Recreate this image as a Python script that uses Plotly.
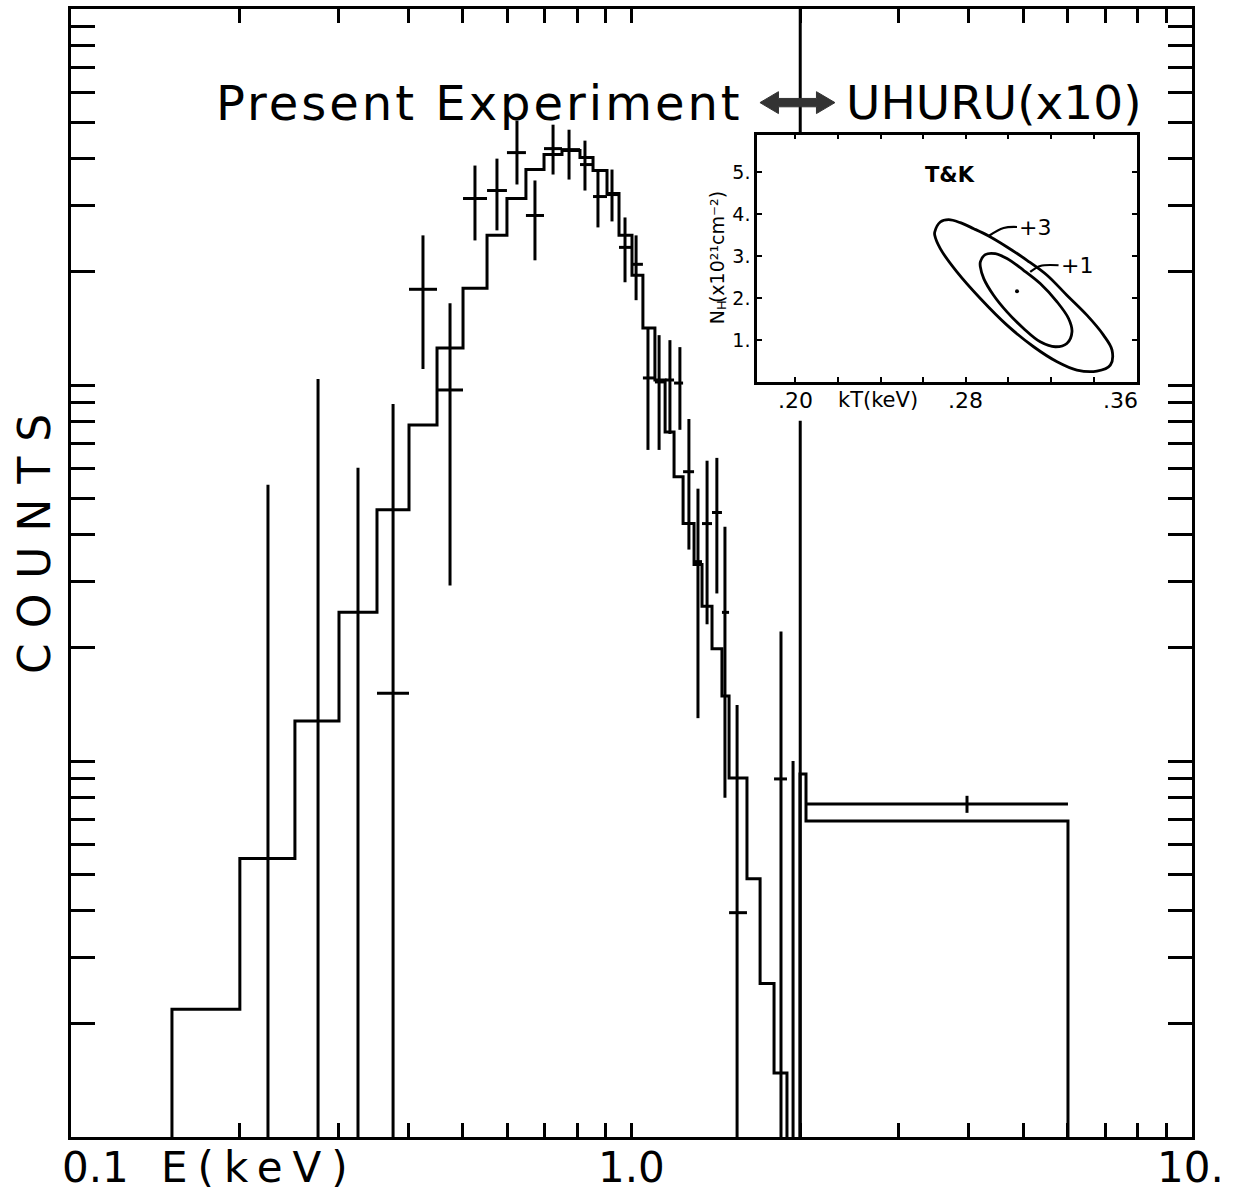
import math
import plotly.graph_objects as go

# ---------------- main spectrum (E in keV, counts on log scale) ----------------
# folded model, present experiment: bin edges and model counts per bin
model_edges_keV = [0.1514, 0.2001, 0.2509, 0.3007, 0.3515, 0.4009, 0.4498, 0.5005,
                   0.5524, 0.5995, 0.6481, 0.6981, 0.7516, 0.8092, 0.8538, 0.9043,
                   0.9500, 1.002, 1.048, 1.101, 1.148, 1.191, 1.236, 1.293, 1.336,
                   1.392, 1.450, 1.493, 1.607, 1.696, 1.796, 1.894]
model_counts = [2.185, 5.50, 12.77, 24.85, 46.6, 78.3, 125.4, 180.8, 250.0, 313.3,
                374.1, 410.0, 420.1, 402.6, 371.8, 323.1, 250.0, 195.8, 141.7, 103.1,
                75.0, 57.0, 42.8, 33.3, 25.8, 19.9, 14.9, 9.01, 4.86, 2.56, 1.48]

# UHURU model (x10)
uhuru_model_edges_keV = [1.998, 2.048, 6.008]
uhuru_model_counts = [9.24, 6.93]

# measured points with central value
pt_e = [0.3755, 0.4246, 0.4745, 0.5257, 0.5754, 0.6247, 0.6726, 0.7245, 0.7737,
        0.8260, 0.8713, 0.9230, 0.9737, 1.019, 1.070, 1.120, 1.171, 1.220, 1.266,
        1.314, 1.364, 1.420, 1.468, 1.543, 1.848]
pt_counts = [15.15, 179.7, 97.0, 313.3, 329.0, 415.0, 282.4, 425.3, 422.7, 385.7,
             317.1, 321.0, 232.3, 209.4, 104.4, 101.9, 103.1, 101.2, 58.8, 33.9,
             42.8, 45.8, 24.85, 3.95, 8.96]
pt_lo = [1.0, 110.3, 29.3, 242.4, 257.8, 341.4, 214.6, 362.9, 351.9, 329.0, 262.5,
         272.3, 187.6, 168.1, 67.2, 67.2, 74.1, 76.0, 36.5, 13.0, 23.1, 27.9, 7.98,
         1.0, 1.0]
pt_hi = [89.0, 250.0, 165.0, 383.4, 400.0, 504.6, 349.9, 492.4, 477.5, 446.6, 371.8,
         374.1, 279.0, 250.0, 142.5, 135.7, 131.6, 126.1, 81.2, 53.0, 62.9, 64.0, 42.0,
         14.1, 22.1]
pt_bin_lo = [0.3515, 0.4009, 0.4498, 0.5005, 0.5524, 0.5995, 0.6481, 0.6981, 0.7516,
             0.8092, 0.8538, 0.9043, 0.9500, 1.002, 1.048, 1.101, 1.148, 1.191, 1.236,
             1.293, 1.336, 1.392, 1.450, 1.493, 1.796]
pt_bin_hi = [0.4009, 0.4498, 0.5005, 0.5524, 0.5995, 0.6481, 0.6981, 0.7516, 0.8092,
             0.8538, 0.9043, 0.9500, 1.002, 1.048, 1.101, 1.148, 1.191, 1.236, 1.293,
             1.336, 1.392, 1.450, 1.493, 1.607, 1.894]

# error bars reaching zero counts (no central mark)
lim_e = [0.2246, 0.2759, 0.3251, 1.942]
lim_hi = [54.3, 103.7, 60.2, 10.0]
COUNT_FLOOR = 1.0

# UHURU point (x10)
uh_e = [3.968]
uh_counts = [7.69]
uh_lo = [7.28]
uh_hi = [8.08]
uh_bin_lo = [2.048]
uh_bin_hi = [6.008]

# axis ticks and labels
x_tickvals = [0.2, 0.3, 0.4, 0.5, 0.6, 0.7, 0.8, 0.9, 1.0, 2, 3, 4, 5, 6, 7, 8, 9]
y_tickvals = [2, 3, 4, 5, 6, 7, 8, 9, 10, 20, 30, 40, 50, 60, 70, 80, 90, 100,
              200, 300, 400, 500, 600, 700, 800, 900]
x_label_text = ["0.1", "1.0", "10."]
x_label_pos_keV = [0.1108, 1.0, 9.92]
UHURU_START_KEV = 2.0

# ---------------- inset: kT vs N_H confidence contours ----------------
outer_kT = [0.2654, 0.2680, 0.2719, 0.2774, 0.2837, 0.2907, 0.2993, 0.3087, 0.3181,
            0.3274, 0.3368, 0.3446, 0.3486, 0.3478, 0.3415, 0.3321, 0.3228, 0.3118,
            0.2993, 0.2868, 0.2758, 0.2680, 0.2654, 0.2654]
outer_NH = [3.572, 3.810, 3.865, 3.794, 3.651, 3.477, 3.216, 2.899, 2.543, 2.067,
            1.592, 1.117, 0.760, 0.404, 0.261, 0.285, 0.483, 0.840, 1.354, 1.988,
            2.622, 3.176, 3.493, 3.572]
inner_kT = [0.2868, 0.2891, 0.2938, 0.2993, 0.3071, 0.3149, 0.3228, 0.3282, 0.3298,
            0.3274, 0.3220, 0.3149, 0.3071, 0.2993, 0.2930, 0.2884, 0.2868, 0.2868]
inner_NH = [2.859, 3.034, 3.057, 2.939, 2.661, 2.345, 1.909, 1.513, 1.196, 0.919,
            0.840, 0.958, 1.275, 1.671, 2.067, 2.463, 2.741, 2.859]
best_kT = [0.3040]
best_NH = [2.162]
lead3_kT = [0.2907, 0.2977, 0.3040]
lead3_NH = [3.477, 3.667, 3.691]
lead1_kT = [0.3102, 0.3149, 0.3235]
lead1_NH = [2.622, 2.764, 2.780]
inset_xtickvals = [0.20, 0.22, 0.24, 0.26, 0.28, 0.30, 0.32, 0.34, 0.36]
inset_xlabel_text = [".20", ".28", ".36"]
inset_xlabel_pos = [0.20, 0.28, 0.3526]
inset_ytickvals = [1, 2, 3, 4, 5]
inset_yticktext = ["1.", "2.", "3.", "4.", "5."]

FONT = "DejaVu Sans"
LW = 3

fig = go.Figure()

# model step line (present experiment)
mx, my = [model_edges_keV[0]], [COUNT_FLOOR]
for i, c in enumerate(model_counts):
    mx += [model_edges_keV[i], model_edges_keV[i + 1]]
    my += [c, c]
mx.append(model_edges_keV[-1]); my.append(COUNT_FLOOR)
fig.add_trace(go.Scatter(x=mx, y=my, mode="lines", line=dict(color="black", width=LW),
                         hoverinfo="skip", showlegend=False))

# UHURU model step
ux, uy = [uhuru_model_edges_keV[0]], [COUNT_FLOOR]
for i, c in enumerate(uhuru_model_counts):
    ux += [uhuru_model_edges_keV[i], uhuru_model_edges_keV[i + 1]]
    uy += [c, c]
ux.append(uhuru_model_edges_keV[-1]); uy.append(COUNT_FLOOR)
fig.add_trace(go.Scatter(x=ux, y=uy, mode="lines", line=dict(color="black", width=LW),
                         hoverinfo="skip", showlegend=False))

# data crosses
ex, ey = [], []
for e, c, lo, hi, b0, b1 in zip(pt_e + uh_e, pt_counts + uh_counts, pt_lo + uh_lo,
                                pt_hi + uh_hi, pt_bin_lo + uh_bin_lo, pt_bin_hi + uh_bin_hi):
    ex += [e, e, None, b0, b1, None]
    ey += [lo, hi, None, c, c, None]
for e, hi in zip(lim_e, lim_hi):
    ex += [e, e, None]
    ey += [COUNT_FLOOR, hi, None]
fig.add_trace(go.Scatter(x=ex, y=ey, mode="lines", line=dict(color="black", width=LW),
                         hoverinfo="skip", showlegend=False, connectgaps=False))

# inset contours
for kx, ny in ((outer_kT, outer_NH), (inner_kT, inner_NH)):
    fig.add_trace(go.Scatter(x=kx, y=ny, xaxis="x2", yaxis="y2", mode="lines",
                             line=dict(color="black", width=2.8, shape="spline", smoothing=1.0),
                             hoverinfo="skip", showlegend=False))
for kx, ny in ((lead3_kT, lead3_NH), (lead1_kT, lead1_NH)):
    fig.add_trace(go.Scatter(x=kx, y=ny, xaxis="x2", yaxis="y2", mode="lines",
                             line=dict(color="black", width=2.2, shape="spline"),
                             hoverinfo="skip", showlegend=False))
fig.add_trace(go.Scatter(x=best_kT, y=best_NH, xaxis="x2", yaxis="y2", mode="markers",
                         marker=dict(color="black", size=4), hoverinfo="skip", showlegend=False))

# layout
fig.update_layout(
    width=1240, height=1197,
    margin=dict(l=71, r=48, t=6, b=60),
    paper_bgcolor="white", plot_bgcolor="white",
    font=dict(family=FONT, color="black"),
    xaxis=dict(type="log", range=[-1, 1], showgrid=False, zeroline=False,
               showline=True, linewidth=3, linecolor="black", mirror="ticks",
               ticks="inside", ticklen=14, tickwidth=3, tickcolor="black",
               tickvals=x_tickvals, showticklabels=False),
    yaxis=dict(type="log", range=[0, 3], showgrid=False, zeroline=False,
               showline=True, linewidth=3, linecolor="black", mirror="ticks",
               ticks="inside", ticklen=24, tickwidth=3, tickcolor="black",
               tickvals=y_tickvals, showticklabels=False),
    xaxis2=dict(domain=[0.6120, 0.9509], anchor="y2", range=[0.182, 0.3603],
                showgrid=False, zeroline=False, showline=True, linewidth=2.5,
                linecolor="black", mirror="ticks", ticks="inside", ticklen=5,
                tickwidth=2, tickcolor="black", tickvals=inset_xtickvals,
                showticklabels=False),
    yaxis2=dict(domain=[0.6693, 0.8886], anchor="x2", range=[0, 5.89],
                showgrid=False, zeroline=False, showline=True, linewidth=2.5,
                linecolor="black", mirror="ticks", ticks="inside", ticklen=5,
                tickwidth=2, tickcolor="black", tickvals=inset_ytickvals,
                ticktext=inset_yticktext, tickfont=dict(size=19, family=FONT)),
)

# divider between present experiment and UHURU
fig.add_shape(type="line", xref="x", yref="paper", x0=UHURU_START_KEV, x1=UHURU_START_KEV,
              y0=0, y1=0.635, line=dict(color="black", width=LW))
fig.add_shape(type="line", xref="x", yref="paper", x0=UHURU_START_KEV, x1=UHURU_START_KEV,
              y0=0.8886, y1=1, line=dict(color="black", width=LW))

# thick double arrow between the two headings
ay0 = 0.917
xl, xr, hl = 0.6146, 0.6815, 0.0165
hh, sh = 0.0097, 0.0037
arrow_path = (f"M {xl},{ay0} L {xl+hl},{ay0+hh} L {xl+hl},{ay0+sh} L {xr-hl},{ay0+sh} "
              f"L {xr-hl},{ay0+hh} L {xr},{ay0} L {xr-hl},{ay0-hh} L {xr-hl},{ay0-sh} "
              f"L {xl+hl},{ay0-sh} L {xl+hl},{ay0-hh} Z")
fig.add_shape(type="path", xref="paper", yref="paper", path=arrow_path,
              fillcolor="#333333", line=dict(color="#333333", width=1))

ann = []
ann.append(dict(text='<span style="letter-spacing:3px">Present Experiment</span>',
                xref="paper", yref="paper", x=0.364, y=0.917, xanchor="center",
                yanchor="middle", showarrow=False, font=dict(size=48, family=FONT)))
ann.append(dict(text="UHURU(x10)", xref="paper", yref="paper", x=0.823, y=0.917,
                xanchor="center", yanchor="middle", showarrow=False,
                font=dict(size=47, family=FONT)))
ann.append(dict(text='<span style="letter-spacing:15px">COUNTS</span>', xref="paper",
                yref="paper", x=-0.032, y=0.532, xanchor="center", yanchor="middle",
                textangle=-90, showarrow=False, font=dict(size=44, family=FONT)))
for t, e in zip(x_label_text, x_label_pos_keV):
    ann.append(dict(text=t, xref="x", yref="paper", x=math.log10(e), y=-0.027,
                    xanchor="center", yanchor="middle", showarrow=False,
                    font=dict(size=42, family=FONT)))
ann.append(dict(text='<span style="letter-spacing:10px">E(keV)</span>', xref="x",
                yref="paper", x=math.log10(0.217), y=-0.027, xanchor="center",
                yanchor="middle", showarrow=False, font=dict(size=42, family=FONT)))
# inset texts
for t, v in zip(inset_xlabel_text, inset_xlabel_pos):
    ann.append(dict(text=t, xref="x2", yref="paper", x=v, y=0.653, xanchor="center",
                    yanchor="middle", showarrow=False, font=dict(size=22, family=FONT)))
ann.append(dict(text="<b>T&amp;K</b>", xref="x2", yref="y2", x=0.2726, y=4.92,
                xanchor="center", yanchor="middle", showarrow=False,
                font=dict(size=21, family=FONT)))
ann.append(dict(text="kT(keV)", xref="paper", yref="paper", x=0.720, y=0.653,
                xanchor="center", yanchor="middle", showarrow=False,
                font=dict(size=21, family=FONT)))
# rotated N_H label (N, subscript H, then the unit)
ann.append(dict(text="N", xref="paper", yref="paper", x=0.5763, y=0.7268,
                xanchor="center", yanchor="middle", textangle=-90, showarrow=False,
                font=dict(size=19, family=FONT)))
ann.append(dict(text="H", xref="paper", yref="paper", x=0.5803, y=0.7372,
                xanchor="center", yanchor="middle", textangle=-90, showarrow=False,
                font=dict(size=13, family=FONT)))
ann.append(dict(text="(x10²¹cm⁻²)", xref="paper", yref="paper", x=0.5763, y=0.7890,
                xanchor="center", yanchor="middle", textangle=-90, showarrow=False,
                font=dict(size=19, family=FONT)))
ann.append(dict(text="+3", xref="x2", yref="y2", x=0.3042, y=3.69, xanchor="left",
                yanchor="middle", showarrow=False, font=dict(size=22, family=FONT)))
ann.append(dict(text="+1", xref="x2", yref="y2", x=0.3237, y=2.78, xanchor="left",
                yanchor="middle", showarrow=False, font=dict(size=22, family=FONT)))
fig.update_layout(annotations=ann)

fig.write_html("out.html")
